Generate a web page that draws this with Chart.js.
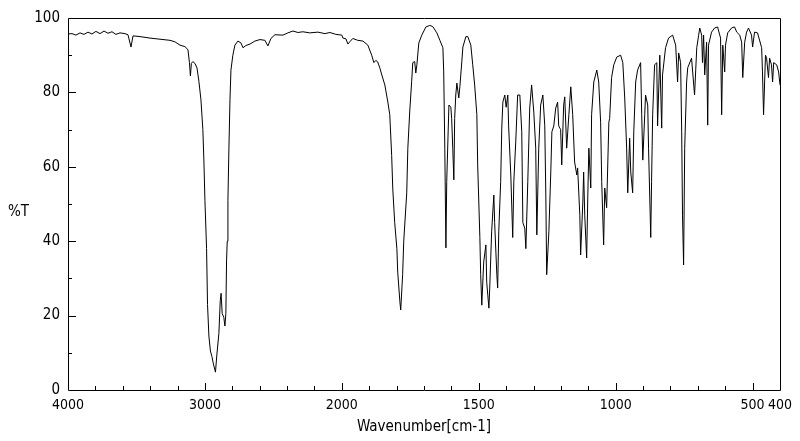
<!DOCTYPE html>
<html>
<head>
<meta charset="utf-8">
<script src="https://cdn.jsdelivr.net/npm/chart.js@4"></script>
<style>
  body { margin: 0; background: #fff; }
  canvas { display: block; }
</style>
</head>
<body>
<canvas id="irChart" width="800" height="441"></canvas>
<script>
// IR spectrum: wavenumber (cm-1) and %T
var wavenumber = [4000, 3971, 3942, 3912, 3883, 3854, 3825, 3796, 3766, 3737, 3708, 3679, 3650, 3620, 3584, 3562, 3540, 3525,
  3474, 3401, 3328, 3255, 3219, 3182, 3146, 3124, 3113, 3106, 3099, 3088, 3073, 3058, 3044, 3029, 3015, 3007, 3000,
  2988, 2981, 2971, 2960, 2949, 2938, 2923, 2913, 2898, 2888, 2882, 2874, 2862, 2854, 2847, 2842, 2837, 2832, 2825,
  2817, 2810, 2796, 2781, 2759, 2737, 2722, 2701, 2671, 2635, 2598, 2562, 2540, 2518, 2489, 2430, 2394, 2357, 2321,
  2285, 2234, 2175, 2124, 2087, 2044, 2000,
  1996, 1985, 1978, 1971, 1960, 1942, 1923, 1905, 1891, 1883, 1876, 1869, 1861, 1854, 1843, 1832, 1825, 1818, 1814,
  1807, 1799, 1796, 1788, 1785, 1778, 1774, 1763, 1759, 1752, 1745, 1741, 1734, 1730, 1726, 1719, 1708, 1693, 1679,
  1668, 1653, 1642, 1631, 1628, 1624, 1620, 1617, 1609, 1602, 1599, 1595, 1591, 1588, 1584, 1580, 1573, 1569, 1562,
  1558, 1547, 1540, 1529, 1522, 1515, 1507, 1504, 1496, 1493, 1489, 1482, 1474, 1471, 1463, 1460, 1453, 1445, 1442,
  1434, 1431, 1427, 1420, 1416, 1412, 1405, 1400, 1394, 1391, 1383, 1376, 1372, 1365, 1358, 1350, 1343, 1339, 1332,
  1328, 1321, 1314, 1307, 1299, 1292, 1288, 1281, 1274, 1266, 1259, 1255, 1252, 1244, 1237, 1233, 1226, 1219, 1212,
  1208, 1201, 1197, 1190, 1186, 1179, 1171, 1164, 1157, 1150, 1142, 1139, 1131, 1128, 1120, 1117, 1113, 1106, 1102,
  1098, 1091, 1088, 1080, 1069, 1062, 1055, 1051, 1044, 1040, 1033, 1025, 1022, 1015, 1007, 996, 982, 974, 967,
  960, 956, 949, 945, 938, 934, 927, 920, 909, 905, 901, 894, 891, 883, 880, 872, 869, 865, 858,
  850, 847, 839, 832, 829, 818, 807, 792, 781, 774, 770, 763, 759, 756, 752, 748, 741, 737, 723,
  712, 704, 697, 693, 686, 683, 679, 675, 668, 664, 661, 650, 639, 628, 617, 613, 609, 602, 599,
  591, 577, 566, 558, 547, 540, 536, 529, 522, 515, 504, 500, 493, 482, 467, 464, 460, 453, 449,
  442, 438, 431, 427, 423, 412, 405, 400];
var transmittance = [95.7, 95.8, 95.4, 96.0, 95.6, 96.2, 95.7, 96.4, 95.8, 96.5, 95.9, 96.3, 95.6, 96.0, 95.8, 95.5, 92.2, 95.2,
  95.0, 94.6, 94.3, 94.0, 93.6, 92.7, 92.3, 91.5, 88.0, 84.4, 87.8, 88.3, 87.8, 86.6, 83.0, 78.0, 70.0, 61.0, 51.0,
  38.0, 23.0, 14.5, 10.5, 9.0, 7.0, 4.8, 9.4, 15.2, 24.0, 26.0, 20.6, 19.5, 17.2, 20.6, 34.7, 40.0, 51.0, 64.5,
  78.0, 86.0, 90.0, 92.7, 93.8, 93.3, 92.0, 92.6, 93.0, 93.8, 94.2, 94.0, 92.5, 94.5, 95.5, 95.4, 96.0, 96.5, 96.1,
  96.3, 96.0, 96.2, 95.8, 96.1, 95.6, 95.4,
  94.6, 94.4, 93.0, 93.6, 94.5, 94.0, 93.8, 92.7, 90.0, 88.0, 88.6, 88.2, 86.5, 84.7, 82.0, 77.4, 74.0, 63.0, 54.0,
  45.0, 38.0, 31.7, 23.7, 21.5, 31.0, 40.0, 53.0, 65.0, 75.0, 83.0, 88.0, 88.3, 85.2, 87.4, 93.3, 95.4, 97.6, 98.0,
  97.7, 96.0, 94.0, 92.0, 85.5, 65.0, 38.2, 56.0, 76.6, 76.0, 73.0, 65.0, 56.5, 73.0, 79.3, 82.5, 78.5, 81.5, 88.2,
  92.2, 95.0, 95.0, 92.7, 87.4, 82.0, 74.0, 60.5, 41.0, 31.0, 22.8, 34.4, 39.0, 29.0, 22.0, 27.4, 42.5, 52.4, 45.0,
  31.0, 27.4, 42.5, 56.0, 70.4, 77.4, 79.3, 76.0, 79.3, 71.0, 57.8, 41.0, 56.0, 66.7, 79.3, 79.3, 69.4, 45.0, 43.5,
  38.0, 56.0, 75.8, 82.0, 74.7, 65.0, 41.7, 65.0, 76.6, 79.3, 71.0, 51.6, 31.0, 42.5, 58.6, 69.4, 71.0, 75.8, 77.4,
  71.0, 70.0, 60.5, 76.6, 78.8, 65.0, 74.0, 81.5, 74.0, 61.3, 57.8, 59.7, 47.0, 36.3, 50.5, 58.6, 47.0, 35.5, 51.6,
  65.0, 54.3, 74.0, 82.8, 86.0, 82.8, 72.0, 56.0, 39.0, 54.3, 49.0, 72.0, 73.0, 84.0, 87.4, 89.5, 90.0, 88.0, 78.5,
  65.0, 53.0, 67.7, 58.6, 53.0, 69.4, 82.8, 86.0, 88.0, 74.0, 61.8, 74.0, 79.3, 76.6, 65.0, 41.0, 56.0, 74.0, 87.4,
  88.0, 71.0, 90.0, 70.4, 84.7, 92.0, 94.6, 95.4, 92.7, 82.8, 90.6, 88.0, 69.4, 47.0, 33.6, 65.0, 82.8, 86.6, 89.2,
  79.3, 92.0, 95.4, 97.3, 95.4, 88.0, 95.4, 84.7, 93.5, 71.2, 92.7, 96.2, 97.3, 97.6, 94.6, 74.0, 92.7, 85.5, 92.7,
  96.0, 97.3, 97.6, 96.2, 95.4, 93.5, 84.0, 93.5, 96.2, 97.3, 95.4, 92.2, 96.2, 96.0, 92.0, 85.5, 74.0, 90.0, 89.2,
  84.0, 89.2, 87.4, 82.8, 88.0, 87.4, 85.5, 82.0];
var xLabels = [4000, 3000, 2000, 1500, 1000, 500, 400];
var yLabels = [0, 20, 40, 60, 80, 100];

// the instrument doubles the scale below 2000 cm-1
function toAxis(w) { return w >= 2000 ? (4000 - w) / 2 : 1000 + (2000 - w); }
function fromAxis(u) { return u <= 1000 ? 4000 - 2 * u : 2000 - (u - 1000); }

var points = wavenumber.map(function (w, i) { return { x: toAxis(w), y: transmittance[i] }; });
var family = '"Liberation Sans Narrow", "DejaVu Sans Condensed", sans-serif';
var font = { family: family, size: 15 };
var xTickFont = { family: family, size: 14 };

var frame = {
    id: 'frame',
    afterDraw: function (chart) {
        var ctx = chart.ctx, a = chart.chartArea;
        var xs = chart.scales.x, ys = chart.scales.y;
        ctx.save();
        ctx.strokeStyle = '#000';
        ctx.lineWidth = 1;
        ctx.beginPath();
        ctx.rect(Math.round(a.left) + 0.5, Math.round(a.top) + 0.5, Math.round(a.right - a.left), Math.round(a.bottom - a.top));
        for (var u = 100; u < 2600; u += 100) {
            var px = Math.round(xs.getPixelForValue(u)) + 0.5;
            var len = u % 500 === 0 ? 7 : 4;
            ctx.moveTo(px, a.bottom);
            ctx.lineTo(px, a.bottom - len);
        }
        for (var v = 10; v < 100; v += 10) {
            var py = Math.round(ys.getPixelForValue(v)) + 0.5;
            ctx.moveTo(a.left, py);
            ctx.lineTo(a.left + (v % 20 === 0 ? 8 : 4), py);
        }
        ctx.stroke();
        ctx.fillStyle = '#000';
        ctx.font = font.size + 'px ' + font.family;
        ctx.textBaseline = 'middle';
        ctx.fillText('%T', 8, 212);
        ctx.restore();
    }
};

new Chart(document.getElementById('irChart'), {
    type: 'line',
    data: {
        datasets: [{
            data: points,
            borderColor: '#000',
            borderWidth: 1,
            pointRadius: 0,
            tension: 0,
            fill: false
        }]
    },
    options: {
        responsive: false,
        animation: false,
        layout: { padding: { top: 18, right: 20, left: 0, bottom: 0 } },
        plugins: { legend: { display: false }, tooltip: { enabled: false } },
        scales: {
            x: {
                type: 'linear',
                min: 0,
                max: 2600,
                grid: { display: false, drawTicks: false },
                border: { display: false },
                afterFit: function (s) { s.height = 51; },
                ticks: {
                    stepSize: 100,
                    autoSkip: false,
                    maxRotation: 0,
                    padding: 7,
                    color: '#000',
                    font: xTickFont,
                    callback: function (value) {
                        var w = Math.round(fromAxis(value));
                        return xLabels.indexOf(w) >= 0 ? String(w) : '';
                    }
                },
                title: { display: true, text: 'Wavenumber[cm-1]', color: '#000', font: font, padding: { top: 0, bottom: 5 } }
            },
            y: {
                min: 0,
                max: 100,
                grid: { display: false, drawTicks: false },
                border: { display: false },
                afterFit: function (s) { s.width = 68; },
                ticks: {
                    stepSize: 20,
                    padding: 8,
                    color: '#000',
                    font: font,
                    callback: function (value) { return yLabels.indexOf(value) >= 0 ? String(value) : ''; }
                }
            }
        }
    },
    plugins: [frame]
});
</script>
</body>
</html>
